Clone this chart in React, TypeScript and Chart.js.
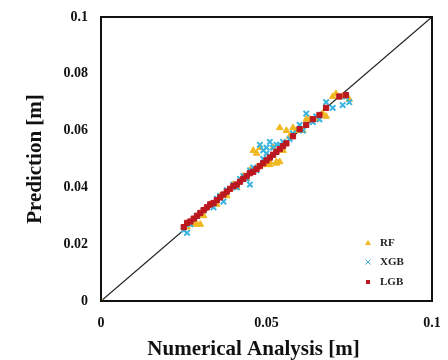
import React, { useEffect, useRef } from "react";
import { Chart, registerables } from "chart.js";

Chart.register(...registerables);

const seriesNames = ["RF", "XGB", "LGB"];
const seriesColors = ["#f0b820", "#3ab4e0", "#bc1820"];

const rfX = [0.0, 0.026, 0.028, 0.029, 0.030, 0.031, 0.033, 0.035, 0.036, 0.038, 0.040, 0.041, 0.043, 0.044, 0.045, 0.046, 0.047, 0.047, 0.048, 0.049, 0.050, 0.051, 0.051, 0.052, 0.053, 0.053, 0.054, 0.054, 0.055, 0.056, 0.057, 0.058, 0.059, 0.061, 0.062, 0.063, 0.065, 0.067, 0.068, 0.070, 0.071, 0.073, 0.075];
const rfY = [0.0, 0.026, 0.027, 0.027, 0.027, 0.030, 0.034, 0.034, 0.037, 0.037, 0.041, 0.040, 0.044, 0.043, 0.046, 0.053, 0.047, 0.052, 0.054, 0.048, 0.048, 0.049, 0.048, 0.054, 0.049, 0.0485, 0.061, 0.049, 0.053, 0.060, 0.058, 0.061, 0.060, 0.060, 0.064, 0.064, 0.064, 0.066, 0.065, 0.072, 0.073, 0.072, 0.071];

const xgbX = [0.025, 0.026, 0.027, 0.029, 0.031, 0.033, 0.034, 0.035, 0.036, 0.037, 0.038, 0.040, 0.041, 0.042, 0.043, 0.044, 0.045, 0.045, 0.046, 0.047, 0.048, 0.049, 0.049, 0.050, 0.050, 0.051, 0.051, 0.052, 0.053, 0.054, 0.055, 0.057, 0.058, 0.060, 0.061, 0.062, 0.064, 0.065, 0.066, 0.068, 0.070, 0.073, 0.074, 0.075];
const xgbY = [0.025, 0.024, 0.027, 0.030, 0.032, 0.034, 0.033, 0.036, 0.037, 0.035, 0.039, 0.041, 0.040, 0.043, 0.044, 0.043, 0.046, 0.041, 0.047, 0.046, 0.055, 0.050, 0.053, 0.052, 0.054, 0.051, 0.056, 0.054, 0.055, 0.055, 0.056, 0.057, 0.059, 0.062, 0.060, 0.066, 0.063, 0.065, 0.064, 0.070, 0.068, 0.069, 0.072, 0.070];

const lgbX = [0.025, 0.026, 0.027, 0.028, 0.029, 0.030, 0.031, 0.032, 0.033, 0.034, 0.035, 0.036, 0.037, 0.038, 0.039, 0.040, 0.041, 0.042, 0.043, 0.044, 0.045, 0.046, 0.047, 0.048, 0.049, 0.050, 0.051, 0.052, 0.053, 0.054, 0.055, 0.056, 0.058, 0.060, 0.062, 0.064, 0.066, 0.068, 0.072, 0.074];
const lgbY = [0.026, 0.0275, 0.028, 0.029, 0.030, 0.031, 0.032, 0.033, 0.034, 0.0345, 0.0355, 0.0365, 0.0375, 0.0385, 0.0395, 0.0405, 0.041, 0.042, 0.043, 0.044, 0.045, 0.0455, 0.0465, 0.0475, 0.0485, 0.0495, 0.0505, 0.0515, 0.0525, 0.0535, 0.0545, 0.0555, 0.058, 0.0605, 0.062, 0.064, 0.0655, 0.068, 0.072, 0.0725];

const lineX = [0, 0.1];
const lineY = [0, 0.1];

const xTicks = [0, 0.05, 0.1];
const yTicks = [0, 0.02, 0.04, 0.06, 0.08, 0.1];

const xTitle = "Numerical Analysis [m]";
const yTitle = "Prediction [m]";

const pts = (xs: number[], ys: number[]) => xs.map((x, i) => ({ x, y: ys[i] }));
const fmt = (v: number) => String(+v.toFixed(3));
const FONT = "'Liberation Serif', 'Times New Roman', serif";

export default function App() {
  const ref = useRef<HTMLCanvasElement | null>(null);
  useEffect(() => {
    document.body.style.margin = "0";
    const canvas = ref.current!;
    const styles = ["triangle", "crossRot", "rect"];

    const boxAndLegend = {
      id: "boxAndLegend",
      afterDatasetsDraw(chart: any) {
        const { ctx, chartArea } = chart;
        ctx.save();
        ctx.strokeStyle = "#111";
        ctx.lineWidth = 2;
        ctx.strokeRect(chartArea.left, chartArea.top, chartArea.right - chartArea.left, chartArea.bottom - chartArea.top);
        ctx.font = `bold 11px ${FONT}`;
        ctx.textBaseline = "middle";
        ctx.textAlign = "left";
        const offs = [58, 39, 19];
        seriesNames.forEach((name, i) => {
          const y = chartArea.bottom - offs[i];
          const mx = chartArea.right - 64;
          ctx.fillStyle = seriesColors[i];
          ctx.strokeStyle = seriesColors[i];
          ctx.lineWidth = 1;
          if (i === 0) {
            ctx.beginPath();
            ctx.moveTo(mx, y - 3);
            ctx.lineTo(mx + 3, y + 2);
            ctx.lineTo(mx - 3, y + 2);
            ctx.closePath();
            ctx.fill();
          } else if (i === 1) {
            ctx.beginPath();
            ctx.moveTo(mx - 2.5, y - 2.5);
            ctx.lineTo(mx + 2.5, y + 2.5);
            ctx.moveTo(mx + 2.5, y - 2.5);
            ctx.lineTo(mx - 2.5, y + 2.5);
            ctx.stroke();
          } else {
            ctx.fillRect(mx - 2, y - 2, 4, 4);
          }
          ctx.fillStyle = "#222";
          ctx.fillText(name, chartArea.right - 52, y);
        });
        ctx.font = `bold 21px ${FONT}`;
        ctx.fillStyle = "#111";
        ctx.textAlign = "center";
        ctx.textBaseline = "middle";
        ctx.fillText(xTitle, (chartArea.left + chartArea.right) / 2 - 13, chartArea.bottom + 49);
        ctx.restore();
      },
    };

    const chart = new Chart(canvas, {
      type: "scatter",
      data: {
        datasets: [
          {
            label: seriesNames[2],
            data: pts(lgbX, lgbY),
            pointStyle: styles[2] as any,
            pointRadius: 3.7,
            backgroundColor: seriesColors[2],
            borderColor: seriesColors[2],
            borderWidth: 1,
          },
          {
            label: seriesNames[1],
            data: pts(xgbX, xgbY),
            pointStyle: styles[1] as any,
            pointRadius: 3.8,
            backgroundColor: seriesColors[1],
            borderColor: seriesColors[1],
            borderWidth: 2,
          },
          {
            label: seriesNames[0],
            data: pts(rfX, rfY),
            pointStyle: styles[0] as any,
            pointRadius: 3.8,
            backgroundColor: seriesColors[0],
            borderColor: seriesColors[0],
            borderWidth: 1,
          },
          {
            type: "line" as any,
            label: "y=x",
            data: pts(lineX, lineY),
            borderColor: "#222",
            borderWidth: 1.3,
            pointRadius: 0,
            fill: false,
          },
        ],
      },
      options: {
        animation: false,
        responsive: false,
        layout: { padding: { left: 0, right: 16, top: 17, bottom: 0 } },
        plugins: { legend: { display: false }, tooltip: { enabled: false } },
        scales: {
          x: {
            type: "linear",
            min: 0,
            max: 0.1,
            afterBuildTicks: (s: any) => { s.ticks = xTicks.map((v) => ({ value: v })); },
            afterFit: (s: any) => { s.height = 59; s.paddingLeft = 0; s.paddingRight = 0; },
            grid: { display: false, drawTicks: false },
            border: { display: false },
            ticks: {
              callback: (v: any) => fmt(Number(v)),
              color: "#111",
              font: { family: FONT, size: 14, weight: "bold" },
              padding: 14,
              maxRotation: 0,
            },
            title: { display: false },
          },
          y: {
            type: "linear",
            min: 0,
            max: 0.1,
            afterBuildTicks: (s: any) => { s.ticks = yTicks.map((v) => ({ value: v })); },
            afterFit: (s: any) => { s.width = 101; s.paddingTop = 0; s.paddingBottom = 0; },
            grid: { display: false, drawTicks: false },
            border: { display: false },
            ticks: {
              callback: (v: any) => fmt(Number(v)),
              color: "#111",
              font: { family: FONT, size: 14, weight: "bold" },
              padding: 13,
            },
            title: {
              display: true,
              text: yTitle,
              color: "#111",
              font: { family: FONT, size: 21, weight: "bold" },
              padding: { top: 23, bottom: 0 },
            },
          },
        },
      },
      plugins: [boxAndLegend],
    });
    return () => chart.destroy();
  }, []);
  return (
    <div style={{ width: 448, height: 360 }}>
      <canvas ref={ref} width={448} height={360} style={{ display: "block" }} />
    </div>
  );
}
